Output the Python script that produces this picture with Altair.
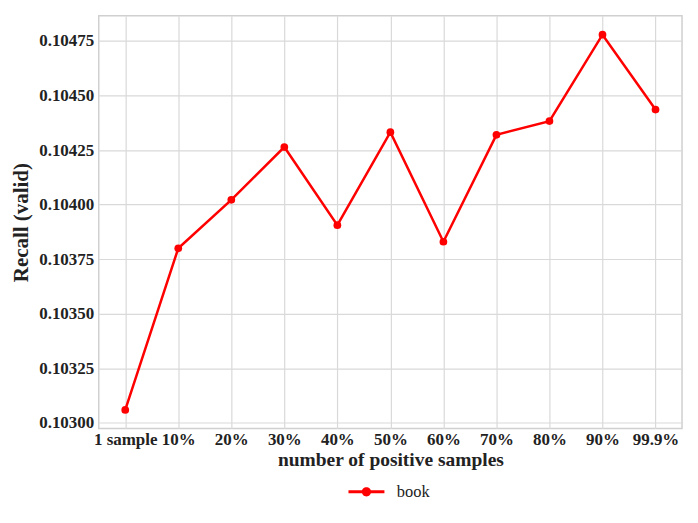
import altair as alt
import pandas as pd

categories = ["1 sample", "10%", "20%", "30%", "40%", "50%", "60%", "70%", "80%", "90%", "99.9%"]
recall = [0.103059, 0.103800, 0.104022, 0.104264, 0.103906, 0.104332, 0.103830, 0.104320, 0.104383, 0.104779, 0.104436]
series = "book"
y_ticks = [0.10300, 0.10325, 0.10350, 0.10375, 0.10400, 0.10425, 0.10450, 0.10475]

df = pd.DataFrame({"cat": categories, "recall": recall, "series": [series] * len(categories)})

FONT = "Liberation Serif"
symbol_path = ("M-1,-0.08 L1,-0.08 L1,0.08 L-1,0.08 Z "
               "M0.26,0 A0.26,0.26 0 1,1 -0.26,0 A0.26,0.26 0 1,1 0.26,0 Z")

x = alt.X("cat:N", sort=categories, scale=alt.Scale(type="point", padding=0.5),
          axis=alt.Axis(title="number of positive samples", labelAngle=0, tickSize=0,
                        labelPadding=3, titlePadding=3, grid=True, titleFontSize=19.5))
y = alt.Y("recall:Q", scale=alt.Scale(domain=[0.102974, 0.104866], nice=False, zero=False),
          axis=alt.Axis(title="Recall (valid)", values=y_ticks, format=".5f", tickSize=0,
                        labelPadding=5, titlePadding=7, grid=True, titleFontSize=21))
color = alt.Color("series:N", scale=alt.Scale(range=["#ff0000"]),
                  legend=alt.Legend(title=None, orient="none", legendX=250, legendY=459,
                                    symbolType=symbol_path, symbolSize=1300,
                                    symbolStrokeWidth=0, labelFontSize=16.5,
                                    labelFont=FONT, labelFontWeight="normal", labelOffset=12,
                                    labelColor="#222222"))

line = alt.Chart(df).mark_line(strokeWidth=2.5).encode(x=x, y=y, color=color)
pts = alt.Chart(df).mark_circle(size=60, opacity=1).encode(x=x, y=y, color=color)

chart = (line + pts).properties(
    width=585, height=414,
    padding={"left": 2, "top": 7, "right": 8, "bottom": 5},
).configure_view(
    stroke="#d0d0d0", strokeWidth=1.5
).configure_axis(
    domain=False, grid=True, gridColor="#d9d9d9", gridWidth=1.2,
    labelFont=FONT, labelFontSize=17, labelFontWeight="bold", labelColor="#222222",
    titleFont=FONT, titleFontWeight="bold", titleColor="#222222",
)

chart.save("out.html", embed_options={"renderer": "svg", "actions": False})
